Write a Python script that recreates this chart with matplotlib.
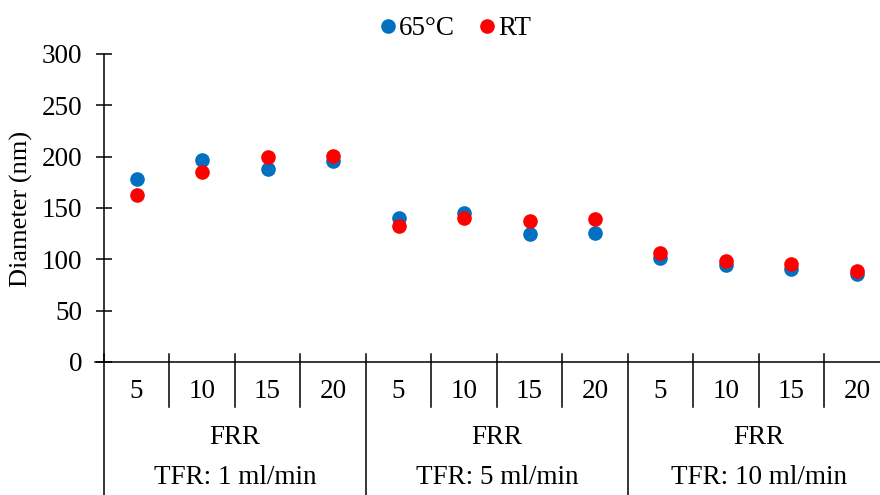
import numpy as np
import matplotlib
matplotlib.use("Agg")
import matplotlib.pyplot as plt
import matplotlib.transforms as mtransforms

plt.rcParams['font.family'] = ['Liberation Serif', 'DejaVu Serif']

# FRR values repeated for each total flow rate
frr = ['5', '10', '15', '20']
tfr_groups = ['TFR: 1 ml/min', 'TFR: 5 ml/min', 'TFR: 10 ml/min']

# particle diameter (nm)
d_65c = [178, 197, 188, 196, 140, 145, 125, 126, 101, 94, 90, 86]
d_rt = [163, 185, 200, 201, 132, 140, 137, 139, 106, 98, 95, 89]

blue = '#0070C0'
red = '#FF0000'
fs = 19.5

fig = plt.figure(figsize=(8.8, 4.95), dpi=100)
ax = fig.add_axes([0.118, 0.269, 0.893, 0.622])

x = np.arange(len(d_65c))
ax.plot(x, d_65c, 'o', color=blue, markersize=9.5, label='65°C', clip_on=False)
ax.plot(x, d_rt, 'o', color=red, markersize=9.5, label='RT', clip_on=False)

ax.set_xlim(-0.5, len(x) - 0.5)
ax.set_ylim(0, 300)
ax.set_yticks(np.arange(0, 301, 50))
ax.tick_params(axis='y', direction='inout', length=11, width=1.1, labelsize=fs, pad=10)

fig.text(21 / 880, 1 - 209 / 495, 'Diameter (nm)', rotation=90,
         ha='center', va='center', fontsize=19)

for s in ['top', 'right']:
    ax.spines[s].set_visible(False)
ax.spines['left'].set_linewidth(1.1)
ax.spines['bottom'].set_linewidth(1.1)
ax.spines['left'].set_bounds(0, 300)

# category axis drawn by hand: FRR labels, separators, group labels
ax.set_xticks([])
trans = mtransforms.blended_transform_factory(ax.transData, ax.transAxes)
h = 308.0
labels = frr * len(tfr_groups)
for i, lab in enumerate(labels):
    ax.text(i, -30 / h, lab, transform=trans, ha='center', va='center', fontsize=fs)

for i in range(len(x) + 1):
    xb = i - 0.5
    if i % len(frr) == 0:
        ax.plot([xb, xb], [8 / h, -150 / h], transform=trans, color='black', lw=1.1, clip_on=False)
    else:
        ax.plot([xb, xb], [8 / h, -45 / h], transform=trans, color='black', lw=1.1, clip_on=False)

# small stub of the x axis to the left of the y axis
ax.plot([-0.5 - 9 / 65.5, -0.5], [0, 0], color='black', lw=1.1, clip_on=False)

for g, name in enumerate(tfr_groups):
    xc = g * len(frr) + (len(frr) - 1) / 2
    ax.text(xc, -76 / h, 'FRR', transform=trans, ha='center', va='center', fontsize=fs)
    ax.text(xc, -116 / h, name, transform=trans, ha='center', va='center', fontsize=fs)

fig.legend(loc='center', bbox_to_anchor=(0.513, 0.942), ncol=2, frameon=False,
           fontsize=fs, handletextpad=-0.2, columnspacing=0.6, handlelength=1.2,
           markerscale=1.0)

fig.savefig('out.png', dpi=100)
